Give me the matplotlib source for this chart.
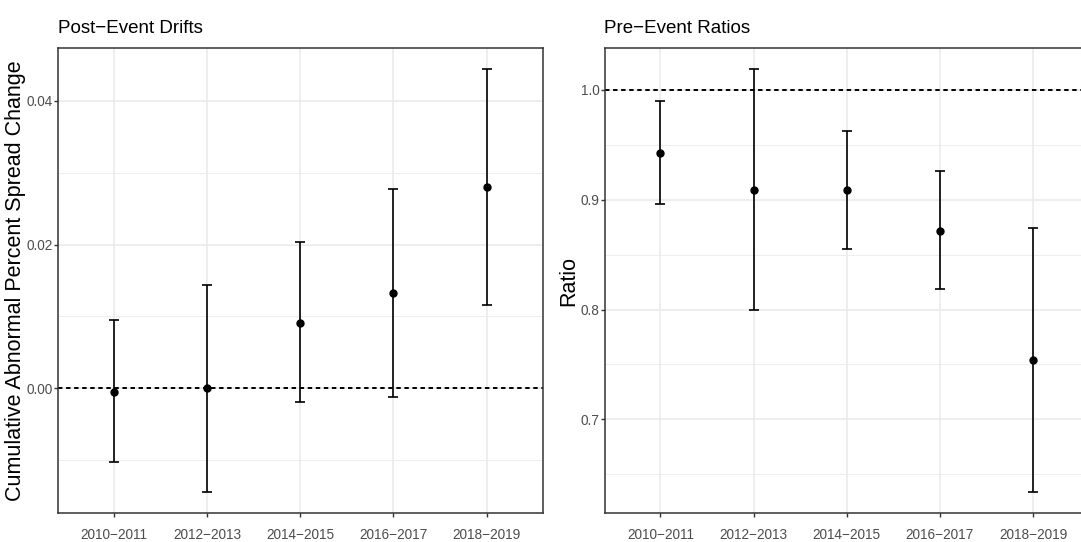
import numpy as np
import matplotlib
matplotlib.use("Agg")
import matplotlib.pyplot as plt
from matplotlib.ticker import MultipleLocator, FormatStrFormatter

periods = ["2010\u22122011", "2012\u22122013", "2014\u22122015", "2016\u22122017", "2018\u22122019"]

# post-event cumulative abnormal spread change
drift_est = [-0.0005, 0.0000, 0.0091, 0.0133, 0.0280]
drift_lo = [-0.0103, -0.0144, -0.0019, -0.0012, 0.0116]
drift_hi = [0.0095, 0.0144, 0.0203, 0.0277, 0.0444]

# pre-event ratios
ratio_est = [0.943, 0.909, 0.909, 0.872, 0.754]
ratio_lo = [0.896, 0.800, 0.855, 0.819, 0.634]
ratio_hi = [0.990, 1.019, 0.963, 0.926, 0.874]

FONT = ["Liberation Sans", "DejaVu Sans"]
GREY20 = "#333333"
GREY30 = "#4D4D4D"
GRID = "#EBEBEB"

plt.rcParams["font.family"] = FONT
plt.rcParams["lines.scale_dashes"] = False

W, H = 1081, 542
fig = plt.figure(figsize=(W / 100, H / 100), dpi=100)


def px_axes(x0, y0, x1, y1):
    return fig.add_axes([x0 / W, 1 - y1 / H, (x1 - x0) / W, (y1 - y0) / H])


def draw_panel(ax, est, lo, hi, ref, title, ylabel, major, fmt, label_x):
    x = np.arange(len(periods))
    est = np.asarray(est)
    lo = np.asarray(lo)
    hi = np.asarray(hi)

    span = hi.max() - lo.min()
    ax.set_ylim(lo.min() - 0.05 * span, hi.max() + 0.05 * span)
    ax.set_xlim(-0.6, len(periods) - 0.4)

    ax.yaxis.set_major_locator(MultipleLocator(major))
    ax.yaxis.set_minor_locator(MultipleLocator(major / 2))
    ax.yaxis.set_major_formatter(FormatStrFormatter(fmt))
    ax.set_xticks(x)
    ax.set_xticklabels(periods)

    ax.grid(which="major", color=GRID, lw=1.2, zorder=0)
    ax.grid(which="minor", axis="y", color=GRID, lw=0.6, zorder=0)
    ax.set_axisbelow(True)

    ax.axhline(ref, color="black", lw=1.4, dashes=(3.2, 2.6), zorder=2)
    ax.errorbar(x, est, yerr=[est - lo, hi - est], fmt="none", ecolor="black",
                elinewidth=1.2, capsize=3.3, capthick=1.2, zorder=3)
    ax.plot(x, est, "o", color="black", ms=5, zorder=4)

    for s in ax.spines.values():
        s.set_color(GREY20)
        s.set_linewidth(1.1)
    ax.tick_params(which="major", length=2.75, width=1.0, color=GREY20,
                   labelcolor=GREY30, labelsize=9.8)
    ax.tick_params(axis="y", pad=1)
    ax.tick_params(axis="x", pad=8)
    ax.tick_params(which="minor", length=0)

    ax.set_title(title, loc="left", fontsize=13.5, pad=11)
    ax.set_ylabel(ylabel, fontsize=15.5)
    ax.yaxis.set_label_coords(label_x, 0.5)


ax1 = px_axes(58, 48, 542.6, 513)
draw_panel(ax1, drift_est, drift_lo, drift_hi, 0.0, "Post\u2212Event Drifts",
           "Cumulative Abnormal Percent Spread Change", 0.02, "%.2f", -0.066)

ax2 = px_axes(604.5, 48, 1089, 513)
draw_panel(ax2, ratio_est, ratio_lo, ratio_hi, 1.0, "Pre\u2212Event Ratios",
           "Ratio", 0.1, "%.1f", -0.053)

fig.savefig("out.png", dpi=100)
